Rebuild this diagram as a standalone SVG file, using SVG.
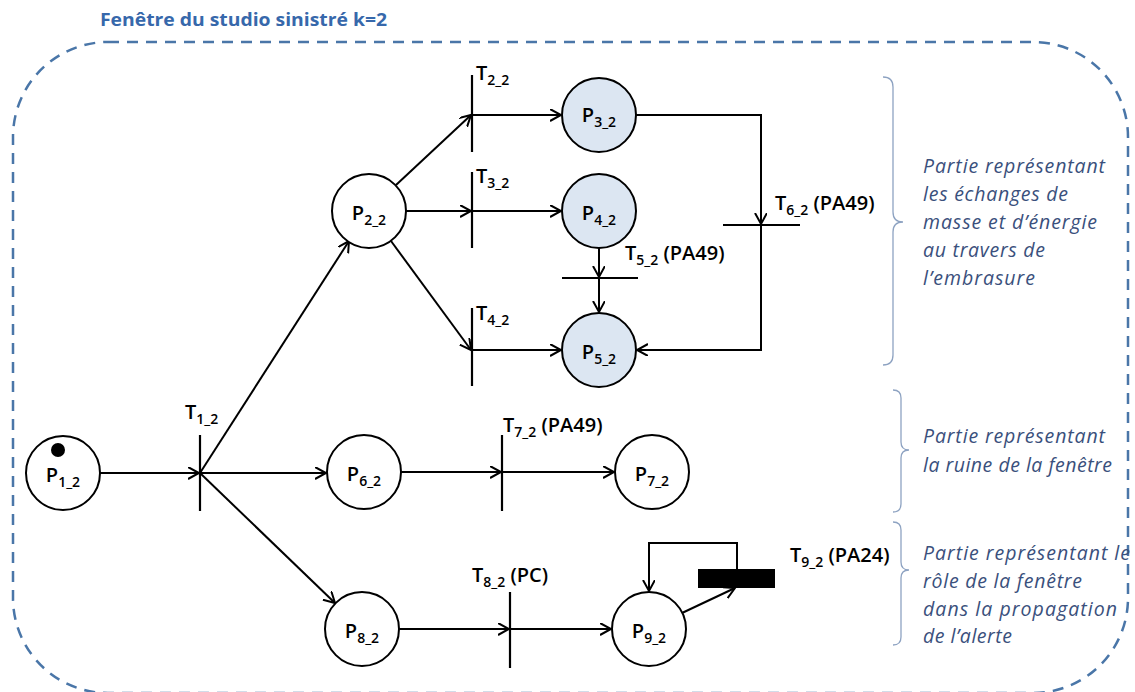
<svg xmlns="http://www.w3.org/2000/svg" width="1135" height="692" viewBox="0 0 1135 692">
<defs>
<marker id="arr" markerWidth="14" markerHeight="14" refX="11" refY="6" orient="auto" markerUnits="userSpaceOnUse">
<path d="M0,0 L11,6 L0,12" fill="none" stroke="#000" stroke-width="2"/>
</marker>
<style>
.pl{fill:#fff;stroke:#000;stroke-width:2}
.ps{fill:#dce6f2;stroke:#000;stroke-width:2}
.tr{stroke:#000;stroke-width:2.2}
.e{fill:none;stroke:#000;stroke-width:2;marker-end:url(#arr)}
.lb{font-family:"Open Sans","Liberation Sans",sans-serif;font-size:20px;font-weight:600;fill:#000}
.sb{font-size:14px}
.note{font-family:"Open Sans","Liberation Sans",sans-serif;font-style:italic;font-size:19.5px;fill:#3a507c}
.br{fill:none;stroke:#8ea3c2;stroke-width:1.3}
</style>
</defs>
<rect width="1135" height="692" fill="#fff"/>
<text x="100" y="26" font-family="'Open Sans','Liberation Sans',sans-serif" font-weight="bold" font-size="18" fill="#3768ab" textLength="287" lengthAdjust="spacingAndGlyphs">Fenêtre du studio sinistré k=2</text>
<rect x="13" y="42" width="1115" height="651" rx="95" ry="95" fill="none" stroke="#4a76a8" stroke-width="2.5" stroke-dasharray="11,8"/>

<g id="connectors">
<path class="e" d="M100,473 H199"/>
<path class="e" d="M200,473 L349,241"/>
<path class="e" d="M200,473 H326"/>
<path class="e" d="M200,473 L335,603"/>
<path class="e" d="M396,185 L471,115"/>
<path class="e" d="M406,211 H471"/>
<path class="e" d="M391,241 L471,350"/>
<path class="e" d="M472,115 H561"/>
<path class="e" d="M472,211 H561"/>
<path class="e" d="M472,350 H561"/>
<path class="e" d="M599,248 V277"/>
<path class="e" d="M599,278 V312"/>
<path class="e" d="M636,115 H761 V224"/>
<path class="e" d="M761,225 V350 H637"/>
<path class="e" d="M401,472 H501"/>
<path class="e" d="M502,472 H614"/>
<path class="e" d="M399,629 H509"/>
<path class="e" d="M510,629 H611"/>
<path class="e" d="M682,613 L735,588"/>
<path class="e" d="M737,569 V543 H649 V591"/>
</g>

<g id="T1_2"><line class="tr" x1="200" y1="435" x2="200" y2="511"/><text class="lb" x="185" y="419">T<tspan class="sb" dy="5">1_2</tspan></text></g>
<g id="T2_2"><line class="tr" x1="472" y1="75" x2="472" y2="152"/><text class="lb" x="476" y="80">T<tspan class="sb" dy="5">2_2</tspan></text></g>
<g id="T3_2"><line class="tr" x1="472" y1="172" x2="472" y2="248"/><text class="lb" x="476" y="183">T<tspan class="sb" dy="5">3_2</tspan></text></g>
<g id="T4_2"><line class="tr" x1="472" y1="308" x2="472" y2="386"/><text class="lb" x="476" y="320">T<tspan class="sb" dy="5">4_2</tspan></text></g>
<g id="T5_2"><line class="tr" x1="562" y1="278" x2="638" y2="278"/><text class="lb" x="625" y="260">T<tspan class="sb" dy="5">5_2</tspan><tspan dy="-5"> (PA49)</tspan></text></g>
<g id="T6_2"><line class="tr" x1="723" y1="225" x2="800" y2="225"/><text class="lb" x="775" y="210">T<tspan class="sb" dy="5">6_2</tspan><tspan dy="-5"> (PA49)</tspan></text></g>
<g id="T7_2"><line class="tr" x1="502" y1="435" x2="502" y2="511"/><text class="lb" x="503" y="432">T<tspan class="sb" dy="5">7_2</tspan><tspan dy="-5"> (PA49)</tspan></text></g>
<g id="T8_2"><line class="tr" x1="510" y1="592" x2="510" y2="668"/><text class="lb" x="472" y="582">T<tspan class="sb" dy="5">8_2</tspan><tspan dy="-5"> (PC)</tspan></text></g>
<g id="T9_2"><rect x="698" y="569" width="77" height="19" fill="#000"/><text class="lb" x="790" y="562">T<tspan class="sb" dy="5">9_2</tspan><tspan dy="-5"> (PA24)</tspan></text></g>

<g id="P1_2"><circle class="pl" cx="63" cy="473" r="37"/><circle cx="58" cy="450" r="7" fill="#000"/><text class="lb" x="63" y="482" text-anchor="middle">P<tspan class="sb" dy="5">1_2</tspan></text></g>
<g id="P2_2"><circle class="pl" cx="369" cy="211" r="37"/><text class="lb" x="369" y="220" text-anchor="middle">P<tspan class="sb" dy="5">2_2</tspan></text></g>
<g id="P3_2"><circle class="ps" cx="599" cy="115" r="37"/><text class="lb" x="599" y="122" text-anchor="middle">P<tspan class="sb" dy="5">3_2</tspan></text></g>
<g id="P4_2"><circle class="ps" cx="599" cy="211" r="37"/><text class="lb" x="599" y="220" text-anchor="middle">P<tspan class="sb" dy="5">4_2</tspan></text></g>
<g id="P5_2"><circle class="ps" cx="599" cy="350" r="37"/><text class="lb" x="599" y="359" text-anchor="middle">P<tspan class="sb" dy="5">5_2</tspan></text></g>
<g id="P6_2"><circle class="pl" cx="364" cy="472" r="37"/><text class="lb" x="364" y="481" text-anchor="middle">P<tspan class="sb" dy="5">6_2</tspan></text></g>
<g id="P7_2"><circle class="pl" cx="652" cy="472" r="37"/><text class="lb" x="652" y="481" text-anchor="middle">P<tspan class="sb" dy="5">7_2</tspan></text></g>
<g id="P8_2"><circle class="pl" cx="362" cy="629" r="37"/><text class="lb" x="362" y="638" text-anchor="middle">P<tspan class="sb" dy="5">8_2</tspan></text></g>
<g id="P9_2"><circle class="pl" cx="649" cy="629" r="37"/><text class="lb" x="649" y="638" text-anchor="middle">P<tspan class="sb" dy="5">9_2</tspan></text></g>

<g id="notes">
<path class="br" d="M883,77 Q893,77 893,87 V212 Q893,222 903,222 Q893,222 893,232 V355 Q893,365 883,365"/>
<path class="br" d="M893,390 Q901,390 901,398 V442 Q901,450 909,450 Q901,450 901,458 V504 Q901,512 893,512"/>
<path class="br" d="M893,522 Q901,522 901,530 V562 Q901,570 909,570 Q901,570 901,578 V637 Q901,645 893,645"/>
<text class="note" x="923" y="173" textLength="182">Partie représentant</text>
<text class="note" x="923" y="201" textLength="145">les échanges de</text>
<text class="note" x="923" y="229" textLength="174">masse et d’énergie</text>
<text class="note" x="923" y="257" textLength="122">au travers de</text>
<text class="note" x="923" y="285" textLength="112">l’embrasure</text>
<text class="note" x="923" y="443" textLength="182">Partie représentant</text>
<text class="note" x="923" y="472" textLength="189">la ruine de la fenêtre</text>
<text class="note" x="923" y="560" textLength="207">Partie représentant le</text>
<text class="note" x="923" y="588" textLength="159">rôle de la fenêtre</text>
<text class="note" x="923" y="616" textLength="194">dans la propagation</text>
<text class="note" x="923" y="643" textLength="89">de l’alerte</text>
</g>
</svg>
